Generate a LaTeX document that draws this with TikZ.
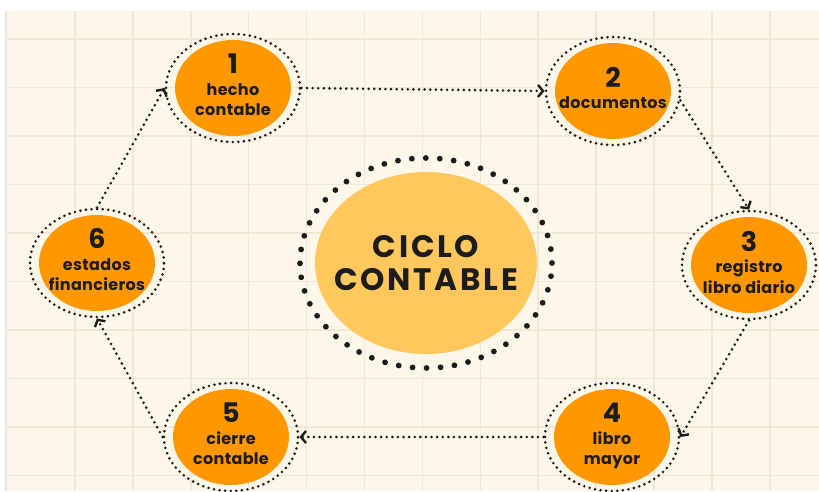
\documentclass[tikz,border=0pt]{standalone}
\usepackage{fontspec}
\setmainfont{Poppins}
\usetikzlibrary{shapes.geometric,arrows.meta}
\definecolor{papel}{HTML}{FDF7EA}
\definecolor{rejilla}{HTML}{F1E7D7}
\definecolor{margen}{HTML}{E2E7F0}
\definecolor{naranja}{HTML}{FF9700}
\definecolor{amarillo}{HTML}{FFC75C}
\definecolor{tinta}{HTML}{1C1C1C}
\newcommand{\numero}[1]{{\fontsize{27}{27}\selectfont #1}\\[1pt]}
\newcommand{\rotulo}[2][12.5pt]{\raisebox{#1}{\begin{tabular}{@{}c@{}}#2\end{tabular}}}

\begin{document}
\begin{tikzpicture}[x=1pt,y=-1pt,
				paso/.style={ellipse,minimum width=134pt,minimum height=108pt,inner sep=-25pt,
					draw=tinta,line width=2.9pt,dash pattern=on 0pt off 5.6pt,line cap=round,
					path picture={\fill[naranja] (path picture bounding box.center) ellipse (58pt and 48pt);},
					align=center,text=tinta,font=\fontsize{16}{20.5}\selectfont\bfseries\addfontfeatures{LetterSpace=2}},
				centro/.style={ellipse,minimum width=252pt,minimum height=210pt,inner sep=-25pt,
					draw=tinta,line width=5.8pt,dash pattern=on 0pt off 14pt,line cap=round,
					path picture={\fill[amarillo] (path picture bounding box.center) ellipse (111pt and 91pt);},
					align=center,text=tinta,font=\fontsize{31}{33}\selectfont\bfseries\addfontfeatures{LetterSpace=9}},
				flecha/.style={draw=tinta,line width=2.9pt,dash pattern=on 0pt off 5.6pt,line cap=round,
					-{Straight Barb[length=5pt,width=12pt,line width=2.4pt]}}]
				% hoja cuadriculada
				\useasboundingbox (0,0) rectangle (819,491);
				\fill[white] (0,0) rectangle (819,491);
				\fill[margen] (5,11) rectangle (7,491);
				\fill[papel] (7,11) rectangle (819,491);
				\foreach \k in {0,...,12}
					\draw[rejilla,line width=1.5pt] (75+57.9*\k,11) -- (75+57.9*\k,491);
				\foreach \k in {0,...,9}
					\draw[rejilla,line width=1.5pt] (7,39+48.5*\k) -- (819,39+48.5*\k);

				\node (CICLO)   [centro] at (426,263) {CICLO\\CONTABLE};
				\node (HECHO)   [paso]   at (233,88)  {\rotulo{\numero{1}hecho\\contable}};
				\node (DOCS)    [paso]   at (613,91)  {\rotulo[0pt]{\numero{2}documentos}};
				\node (DIARIO)  [paso]   at (749,265) {\rotulo{\numero{3}registro\\libro diario}};
				\node (MAYOR)   [paso]   at (612,437) {\rotulo{\numero{4}libro\\mayor}};
				\node (CIERRE)  [paso]   at (231,437) {\rotulo{\numero{5}cierre\\contable}};
				\node (ESTADOS) [paso]   at (97,263)  {\rotulo{\numero{6}estados\\financieros}};

				\draw[flecha] (HECHO.east)    -- (DOCS.west);
				\draw[flecha] (DOCS.-8)       -- (DIARIO.north);
				\draw[flecha] (DIARIO.south)  -- (MAYOR.east);
				\draw[flecha] (MAYOR.west)    -- (CIERRE.east);
				\draw[flecha] (CIERRE.west)   -- (ESTADOS.south);
				\draw[flecha] (ESTADOS.north) -- (HECHO.west);
			\end{tikzpicture}
\end{document}
